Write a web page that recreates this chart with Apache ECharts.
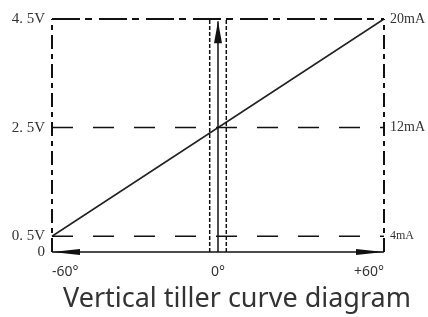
<!DOCTYPE html>
<html>
<head>
<meta charset="utf-8">
<script src="https://cdn.jsdelivr.net/npm/echarts@6/dist/echarts.min.js"></script>
<style>
  html, body { margin: 0; background: #fff; }
  #chart { width: 428px; height: 317px; }
</style>
</head>
<body>
<div id="chart"></div>
<script>
// angle (deg) on x, output voltage on y; bottom of the frame is drawn as "0"
const yBottom = 0.21
const curveX = [-60, 60]
const curveY = [0.5, 4.5]
const leftTicks = [0.21, 0.5, 2.5, 4.5]
const leftLabels = ['0', '0. 5V', '2. 5V', '4. 5V']
const rightTicks = [0.5, 2.5, 4.5]
const rightLabels = ['4mA', '12mA', '20mA']
const xTicks = [-60, 0, 60]
const xLabels = ['-60°', '0°', '+60°']
const dashLevels = [0.5, 2.5]
const topLevel = 4.5
const sideEdges = [-60, 60]
const bandEdges = [-3, 3]
const upArrow = [[0, 0.21], [0, 4.46]]
const bottomArrow = [[-60, 0.21], [60, 0.21]]

const chart = echarts.init(document.getElementById('chart'))

const pick = (ticks, labels) => (v) => {
  const i = ticks.findIndex((t) => Math.abs(t - v) < 1e-6)
  return i < 0 ? '' : labels[i]
}

const seg = (name, data, type, width, color) => ({
  name,
  type: 'line',
  data,
  symbol: 'none',
  silent: true,
  lineStyle: { color: color || '#111', width, type },
})

const series = [
  seg('curve', curveX.map((x, i) => [x, curveY[i]]), 'solid', 1.5, '#222'),
  ...dashLevels.map((v) => seg('level', [[curveX[0], v], [curveX[1], v]], [21, 20], 1.5)),
  seg('top', [[curveX[0], topLevel], [curveX[1], topLevel]], [28, 5, 7, 7], 2),
  ...sideEdges.map((x) => seg('side', [[x, yBottom], [x, topLevel]], [14, 5, 5, 5], 2)),
  ...bandEdges.map((x) => seg('band', [[x, yBottom], [x, topLevel]], [4, 2], 1.5)),
  {
    type: 'line',
    data: [],
    silent: true,
    markLine: {
      silent: true,
      animation: false,
      label: { show: false },
      lineStyle: { color: '#111', width: 1.5, type: 'solid' },
      data: [
        [
          { coord: bottomArrow[0], symbol: 'triangle', symbolSize: [6, 28], symbolOffset: [0, '50%'] },
          { coord: bottomArrow[1], symbol: 'triangle', symbolSize: [6, 28], symbolOffset: [0, '50%'] },
        ],
        [
          { coord: upArrow[0], symbol: 'none' },
          { coord: upArrow[1], symbol: 'triangle', symbolSize: [8, 22], symbolOffset: [0, '50%'] },
        ],
      ],
    },
  },
]

const option = {
  animation: false,
  title: {
    text: 'Vertical tiller curve diagram',
    left: 58,
    top: 281,
    textStyle: { fontFamily: 'Noto Sans', fontSize: 27, fontWeight: 'normal', color: '#333' },
  },
  grid: { left: 52, right: 43, top: 19, bottom: 65 },
  xAxis: {
    type: 'value',
    min: -60,
    max: 60,
    axisLine: { show: false },
    axisTick: { show: false },
    splitLine: { show: false },
    axisLabel: {
      customValues: xTicks,
      formatter: pick(xTicks, xLabels),
      margin: 13,
      fontFamily: 'Noto Sans',
      fontSize: 14,
      color: '#333',
      alignMinLabel: 'left',
      alignMaxLabel: 'right',
    },
  },
  yAxis: [
    {
      type: 'value',
      min: yBottom,
      max: topLevel,
      axisLine: { show: false },
      axisTick: { show: false },
      splitLine: { show: false },
      axisLabel: {
        customValues: leftTicks,
        formatter: pick(leftTicks, leftLabels),
        margin: 7,
        fontFamily: 'Liberation Serif',
        fontSize: 15,
        color: '#333',
      },
    },
    {
      type: 'value',
      position: 'right',
      min: yBottom,
      max: topLevel,
      axisLine: { show: false },
      axisTick: { show: false },
      splitLine: { show: false },
      axisLabel: {
        customValues: rightTicks,
        formatter: (v) => {
          const t = pick(rightTicks, rightLabels)(v)
          return t === '4mA' ? '{s|' + t + '}' : t
        },
        margin: 6,
        fontFamily: 'Liberation Serif',
        fontSize: 14,
        color: '#333',
        rich: { s: { fontFamily: 'Liberation Serif', fontSize: 12, color: '#333' } },
      },
    },
  ],
  series,
}

chart.setOption(option)
</script>
</body>
</html>
